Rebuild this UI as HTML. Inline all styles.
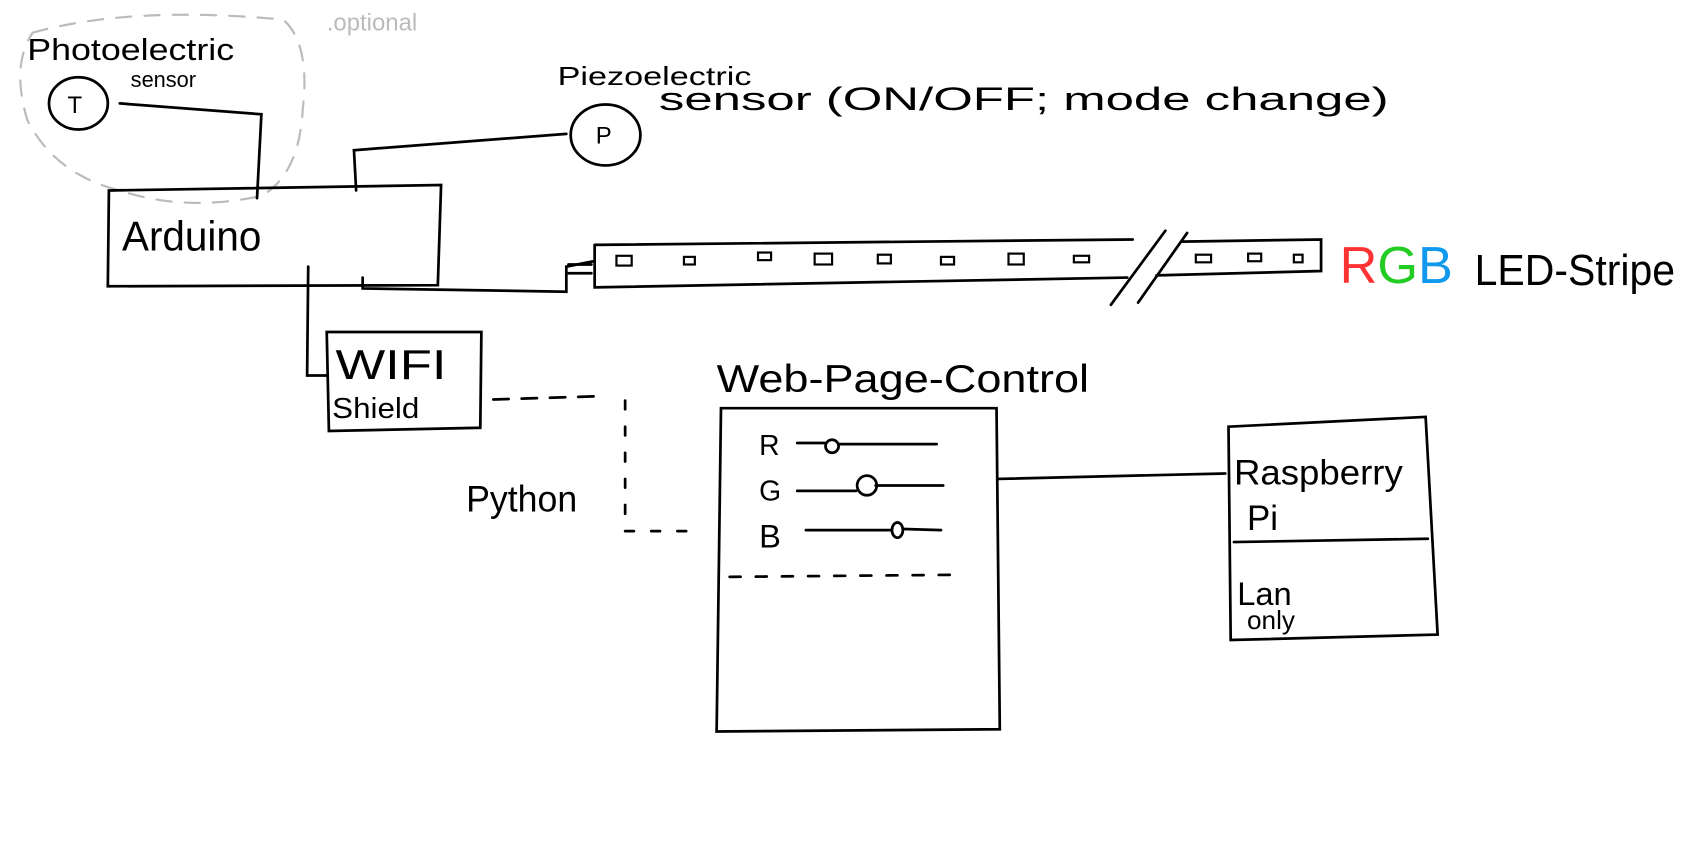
<!DOCTYPE html>
<html><head><meta charset="utf-8"><style>
html,body{margin:0;padding:0;background:#fff;}
svg{display:block;}
text{font-family:"Liberation Sans",sans-serif;}
</style></head><body>
<svg width="1699" height="849" viewBox="0 0 1560 780" preserveAspectRatio="none" xmlns="http://www.w3.org/2000/svg">
<g fill="none" stroke="#000" stroke-width="2.5" stroke-linecap="round">
<path d="M30 30 Q120 5 260 18 Q285 40 278 100 Q275 160 240 180 Q170 195 110 175 Q50 160 25 110 Q10 60 30 30" stroke="#bbb" stroke-width="2" stroke-dasharray="14 12"/>
<ellipse cx="72" cy="95" rx="27" ry="24"/>
<path d="M110 95 L240 105 L236 182"/>
<ellipse cx="556" cy="124" rx="32" ry="28"/>
<path d="M520 123 L325 138 L327 175"/>
<path d="M100 175 L405 170 L402 262 L99 263 Z"/>
<path d="M283 245 L282 345 L300 345"/>
<path d="M333 255 L333 265 L520 268 L520 245 L545 240"/>
<path d="M522 243 L543 243 M522 251 L543 251"/>
<path d="M546 225 L1040 220 M546 225 L546 264 L1035 255 M1085 222 L1213 220 L1213 249 L1062 253"/>
<path d="M1020 280 L1070 212 M1045 278 L1090 214"/>
<path d="M300 305 L442 305 L441 393 L302 396 Z"/>
<path d="M453 367 L550 364" stroke-dasharray="14 12"/>
<path d="M574 368 L574 488 L645 488" stroke-dasharray="8 16"/>
<path d="M662 375 L915 375 L918 670 L658 672 Z"/>
<path d="M670 530 L885 528" stroke-dasharray="10 14"/>
<path d="M732 407 L758 407 M770 408 L860 408"/>
<circle cx="764" cy="410" r="6"/>
<path d="M732 451 L786 451 M804 446 L866 446"/>
<circle cx="796" cy="446" r="9"/>
<path d="M740 487 L818 487 M830 486 L864 487"/>
<ellipse cx="824" cy="487" rx="5" ry="7"/>
<path d="M916 440 L1125 435"/>
<path d="M1128 392 L1309 383 L1320 583 L1130 588 Z"/>
<path d="M1133 498 L1311 495"/>
</g>
<g fill="none" stroke="#000" stroke-width="2">
<rect x="566" y="235" width="14" height="9"/><rect x="628" y="236" width="10" height="7"/>
<rect x="696" y="232" width="12" height="7"/><rect x="748" y="233" width="16" height="10"/>
<rect x="806" y="234" width="12" height="8"/><rect x="864" y="236" width="12" height="7"/>
<rect x="926" y="233" width="14" height="10"/><rect x="986" y="235" width="14" height="6"/>
<rect x="1098" y="234" width="14" height="7"/><rect x="1146" y="233" width="12" height="7"/><rect x="1188" y="234" width="8" height="7"/>
</g>
<g style="fill:#000">
<text x="25" y="55" font-size="28" textLength="190" lengthAdjust="spacingAndGlyphs">Photoelectric</text>
<text x="120" y="80" font-size="20">sensor</text>
<text x="62" y="104" font-size="22">T</text>
<text x="300" y="28" font-size="22" style="fill:#bbb">.optional</text>
<text x="512" y="78" font-size="24" textLength="178" lengthAdjust="spacingAndGlyphs">Piezoelectric</text>
<text x="605" y="101" font-size="30" textLength="670" lengthAdjust="spacingAndGlyphs">sensor (ON/OFF; mode  change)</text>
<text x="547" y="132" font-size="22">P</text>
<text x="112" y="230" font-size="38" textLength="128" lengthAdjust="spacingAndGlyphs">Arduino</text>
<text x="1230" y="260" font-size="48" textLength="104" lengthAdjust="spacingAndGlyphs"><tspan style="fill:#f33">R</tspan><tspan style="fill:#2c2">G</tspan><tspan style="fill:#19e">B</tspan></text>
<text x="1354" y="262" font-size="40" textLength="184" lengthAdjust="spacingAndGlyphs">LED-Stripe</text>
<text x="308" y="348" font-size="38" textLength="102" lengthAdjust="spacingAndGlyphs">WIFI</text>
<text x="305" y="384" font-size="26" textLength="80" lengthAdjust="spacingAndGlyphs">Shield</text>
<text x="428" y="470" font-size="34" textLength="102" lengthAdjust="spacingAndGlyphs">Python</text>
<text x="658" y="360" font-size="36" textLength="342" lengthAdjust="spacingAndGlyphs">Web-Page-Control</text>
<text x="697" y="418" font-size="26">R</text>
<text x="697" y="460" font-size="26">G</text>
<text x="697" y="503" font-size="30">B</text>
<text x="1133" y="445" font-size="32" textLength="155" lengthAdjust="spacingAndGlyphs">Raspberry</text>
<text x="1145" y="487" font-size="32">Pi</text>
<text x="1136" y="556" font-size="30">Lan</text>
<text x="1145" y="578" font-size="24">only</text>
</g>
</svg>
</body></html>
